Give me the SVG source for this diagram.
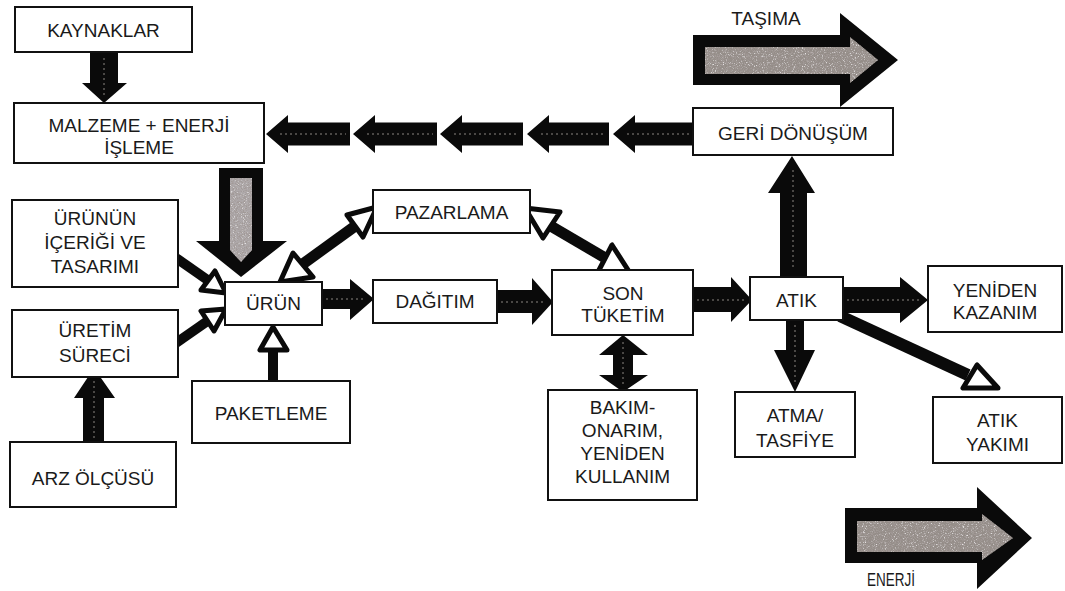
<svg xmlns="http://www.w3.org/2000/svg" width="1065" height="591" viewBox="0 0 1065 591">
  <style>
    .box { fill: #ffffff; stroke: #111111; stroke-width: 2; }
    .lbl { font-family: "Liberation Sans", Arial, sans-serif; font-size: 19px; fill: #1a1a1a; text-anchor: middle; }
    .solid { fill: #0a0a0a; }
    .hollow { fill: #ffffff; stroke: #0a0a0a; stroke-width: 5; stroke-linejoin: round; }
    .shaft { stroke: #0a0a0a; fill: none; stroke-linecap: butt; }
    .dots { stroke: #8a8580; stroke-width: 1; stroke-dasharray: 2 3; fill: none; }
    .grey { fill: #948d88; }
    .lightgrey { fill: #aea9aa; }
  </style>
  <defs>
    <!-- speckled texture for the grey arrow interiors -->
    <filter id="grain" x="0" y="0" width="100%" height="100%">
      <feTurbulence type="fractalNoise" baseFrequency="0.9" numOctaves="2" seed="7" result="noise"/>
      <feColorMatrix in="noise" type="matrix" values="0 0 0 0 0.36  0 0 0 0 0.32  0 0 0 0 0.31  4 0 0 0 -1.7" result="dark"/>
      <feColorMatrix in="noise" type="matrix" values="0 0 0 0 0.78  0 0 0 0 0.76  0 0 0 0 0.76  0 -4 0 0 1.6" result="light"/>
      <feComposite in="dark" in2="SourceGraphic" operator="in" result="darkIn"/>
      <feComposite in="light" in2="SourceGraphic" operator="in" result="lightIn"/>
      <feMerge>
        <feMergeNode in="SourceGraphic"/>
        <feMergeNode in="darkIn"/>
        <feMergeNode in="lightIn"/>
      </feMerge>
    </filter>
  </defs>

  <rect width="1065" height="591" fill="#ffffff"/>

  <!-- connectors -->
  <g id="connectors">
    <!-- KAYNAKLAR -> MALZEME -->
    <polygon class="solid" points="90,52 118,52 118,83 127,83 104,103 82,83 90,83"/>
    <!-- ARZ ÖLÇÜSÜ -> ÜRETİM SÜRECİ -->
    <polygon class="solid" points="83,442 83,398 74,398 94,368 115,398 104,398 104,442"/>
    <!-- MALZEME -> ÜRÜN (grey filled) -->
    <polygon class="solid" points="219,168 263,168 263,241 287,241 241,277 196,241 219,241"/>
    <polygon class="lightgrey" filter="url(#grain)" points="230,178 252,178 252,250 241,262 230,250"/>

    <!-- GERİ DÖNÜŞÜM -> MALZEME (chain of five) -->
    <polygon class="solid" points="266,134 288,115 288,122.5 350,122.5 350,145.5 288,145.5 288,153"/>
    <polygon class="solid" points="353,134 375,115 375,122.5 437,122.5 437,145.5 375,145.5 375,153"/>
    <polygon class="solid" points="440,134 462,115 462,122.5 523,122.5 523,145.5 462,145.5 462,153"/>
    <polygon class="solid" points="527,134 549,115 549,122.5 609,122.5 609,145.5 549,145.5 549,153"/>
    <polygon class="solid" points="613,134 635,115 635,122.5 693,122.5 693,145.5 635,145.5 635,153"/>

    <!-- main flow -->
    <polygon class="solid" points="322,289 350,289 350,279 374,299 350,320 350,309 322,309"/>
    <polygon class="solid" points="497,290 532,290 532,278 553,302 532,325 532,313 497,313"/>
    <polygon class="solid" points="693,287 731,287 731,277 752,300 731,322 731,312 693,312"/>
    <polygon class="solid" points="843,287 900,287 900,277 928,300 900,323 900,313 843,313"/>
    <!-- ATIK -> GERİ DÖNÜŞÜM -->
    <polygon class="solid" points="780,277 780,193 768,193 792,156 815,193 807,193 807,277"/>
    <!-- ATIK -> ATMA/TASFİYE -->
    <polygon class="solid" points="786,320 804,320 804,350 815,350 795,392 774,350 786,350"/>
    <!-- SON TÜKETİM <-> BAKIM-ONARIM -->
    <polygon class="solid" points="599,355 623,335 648,355 633,355 633,375 648,375 623,392 599,375 613,375 613,355"/>

    <!-- hollow-headed connectors -->
    <line class="shaft" stroke-width="10" x1="176" y1="258" x2="209" y2="281"/>
    <polygon class="hollow" points="226,293 201,290 215,271"/>
    <line class="shaft" stroke-width="10" x1="176" y1="343" x2="209" y2="320"/>
    <polygon class="hollow" points="226,309 214,331 201,311"/>
    <line class="shaft" stroke-width="10" x1="273" y1="381" x2="273" y2="349"/>
    <polygon class="hollow" points="273,327 260,350 287,350"/>

    <line class="shaft" stroke-width="11" x1="300" y1="266" x2="358" y2="224"/>
    <polygon class="hollow" points="280,282 293,253 313,277"/>
    <polygon class="hollow" points="377,207 347,215 363,237"/>

    <line class="shaft" stroke-width="11" x1="549" y1="225" x2="607" y2="259"/>
    <polygon class="hollow" points="525,208 560,212 543,238"/>
    <polygon class="hollow" points="598,272 630,273 612,245"/>

    <line class="shaft" stroke-width="12" x1="840" y1="316" x2="968" y2="375"/>
    <polygon class="hollow" points="963,388 998,388 977,365"/>

    <!-- faint centre lines inside the solid arrows -->
    <path class="dots" d="M104,58 V95 M94,376 V440 M280,134 H346 M367,134 H433 M454,134 H519 M541,134 H605 M627,134 H689 M326,299 H366 M501,302 H545 M697,300 H744 M847,300 H920 M795,325 V384 M623,342 V386 M793,170 V270"/>
  </g>

  <!-- legend arrows -->
  <g id="tasima">
    <polygon class="solid" points="693,35 840,35 840,13 898,60 840,107 840,85 693,85"/>
    <polygon class="grey" filter="url(#grain)" points="705,47 850,47 850,37 878,60 850,83 850,74 705,74"/>
    <text class="lbl" x="766" y="25">TAŞIMA</text>
  </g>
  <g id="enerji">
    <polygon class="solid" points="845,508 977,508 977,487 1032,538 977,589 977,563 845,563"/>
    <polygon class="grey" filter="url(#grain)" points="857,521 982,521 982,514 1013,538 982,560 982,552 857,552"/>
    <text class="lbl" x="891" y="586" textLength="48" lengthAdjust="spacingAndGlyphs">ENERJİ</text>
  </g>

  <!-- nodes -->
  <g id="kaynaklar">
    <rect class="box" x="15" y="7" width="177" height="45"/>
    <text class="lbl" x="103.5" y="37">KAYNAKLAR</text>
  </g>
  <g id="malzeme">
    <rect class="box" x="14" y="103" width="250" height="60"/>
    <text class="lbl" x="139" y="132">MALZEME + ENERJİ</text>
    <text class="lbl" x="139" y="154">İŞLEME</text>
  </g>
  <g id="urun-icerigi">
    <rect class="box" x="12" y="200" width="166" height="87"/>
    <text class="lbl" x="95" y="225">ÜRÜNÜN</text>
    <text class="lbl" x="95" y="249">İÇERİĞİ VE</text>
    <text class="lbl" x="95" y="273">TASARIMI</text>
  </g>
  <g id="uretim">
    <rect class="box" x="12" y="310" width="166" height="67"/>
    <text class="lbl" x="95" y="337">ÜRETİM</text>
    <text class="lbl" x="95" y="362">SÜRECİ</text>
  </g>
  <g id="arz">
    <rect class="box" x="10" y="442" width="166" height="65"/>
    <text class="lbl" x="93" y="485">ARZ ÖLÇÜSÜ</text>
  </g>
  <g id="urun">
    <rect class="box" x="225" y="282" width="97" height="43"/>
    <text class="lbl" x="273.5" y="310">ÜRÜN</text>
  </g>
  <g id="paketleme">
    <rect class="box" x="192" y="381" width="158" height="62"/>
    <text class="lbl" x="271" y="420">PAKETLEME</text>
  </g>
  <g id="pazarlama">
    <rect class="box" x="373" y="190" width="157" height="43"/>
    <text class="lbl" x="451.5" y="219">PAZARLAMA</text>
  </g>
  <g id="dagitim">
    <rect class="box" x="373" y="280" width="124" height="43"/>
    <text class="lbl" x="435" y="308">DAĞITIM</text>
  </g>
  <g id="son-tuketim">
    <rect class="box" x="552" y="270" width="141" height="65"/>
    <text class="lbl" x="623" y="300">SON</text>
    <text class="lbl" x="623" y="322">TÜKETİM</text>
  </g>
  <g id="bakim">
    <rect class="box" x="548" y="390" width="149" height="110"/>
    <text class="lbl" x="622.5" y="414">BAKIM-</text>
    <text class="lbl" x="622.5" y="437">ONARIM,</text>
    <text class="lbl" x="622.5" y="460">YENİDEN</text>
    <text class="lbl" x="622.5" y="483">KULLANIM</text>
  </g>
  <g id="atik">
    <rect class="box" x="750" y="277" width="93" height="43"/>
    <text class="lbl" x="796.5" y="307">ATIK</text>
  </g>
  <g id="geri-donusum">
    <rect class="box" x="693" y="108" width="200" height="47"/>
    <text class="lbl" x="793" y="140">GERİ DÖNÜŞÜM</text>
  </g>
  <g id="yeniden-kazanim">
    <rect class="box" x="928" y="266" width="134" height="66"/>
    <text class="lbl" x="995" y="297">YENİDEN</text>
    <text class="lbl" x="995" y="319">KAZANIM</text>
  </g>
  <g id="atma">
    <rect class="box" x="735" y="392" width="120" height="65"/>
    <text class="lbl" x="795" y="422">ATMA/</text>
    <text class="lbl" x="795" y="447">TASFİYE</text>
  </g>
  <g id="atik-yakimi">
    <rect class="box" x="933" y="397" width="129" height="66"/>
    <text class="lbl" x="997.5" y="427">ATIK</text>
    <text class="lbl" x="997.5" y="451">YAKIMI</text>
  </g>
</svg>
